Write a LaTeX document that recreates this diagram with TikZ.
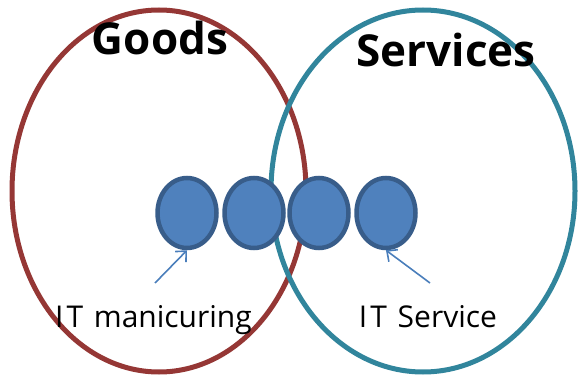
\documentclass[tikz,border=0pt]{standalone}
\usepackage{fontspec}
\setmainfont{Open Sans}
\usetikzlibrary{shapes.geometric,arrows.meta}
\definecolor{goodsred}{HTML}{953735}
\definecolor{serviceteal}{HTML}{31859C}
\definecolor{dotfill}{HTML}{4F81BD}
\definecolor{dotline}{HTML}{385D8A}
\definecolor{arrowblue}{HTML}{4A7EBB}
\tikzset{
  bigset/.style={ellipse, draw, line width=5pt, inner sep=0pt},
  dot/.style={ellipse, draw=dotline, fill=dotfill, line width=4.5pt, inner sep=0pt, minimum width=59pt, minimum height=70pt},
  pointer/.style={draw=arrowblue, line width=1.6pt, -{Straight Barb[length=8pt,width=15pt,line width=1.6pt]}},
  title/.style={font=\bfseries\fontsize{44}{48}\selectfont, anchor=base, inner sep=0pt},
  label/.style={font=\fontsize{30}{34}\selectfont, anchor=base, inner sep=0pt}
}
\begin{document}
\begin{tikzpicture}[x=1pt,y=-1pt]
\useasboundingbox (0,0) rectangle (578,377);
\node[bigset, draw=goodsred, minimum width=294pt, minimum height=362pt] (goods) at (159,191) {};
\node[bigset, draw=serviceteal, minimum width=304pt, minimum height=362pt] (services) at (423,191) {};
\node[dot] (c1) at (187,213) {};
\node[dot] (c2) at (254,213) {};
\node[dot] (c3) at (319,213) {};
\node[dot] (c4) at (386,213) {};
\node[title] (goodslabel) at (160,55) {Goods};
\node[title] (serviceslabel) at (446,67) {Services};
\node[label] (itm) at (153.5,327) {I\kern3pt T\hspace{3pt} manicuring};
\node[label] (its) at (428,327) {I\kern3pt T\hspace{3pt} Service};
\coordinate (t1) at (155,283);
\coordinate (t2) at (430,283);
\draw[pointer] (t1) -- (c1.south);
\draw[pointer] (t2) -- (c4.south);
\end{tikzpicture}
\end{document}
